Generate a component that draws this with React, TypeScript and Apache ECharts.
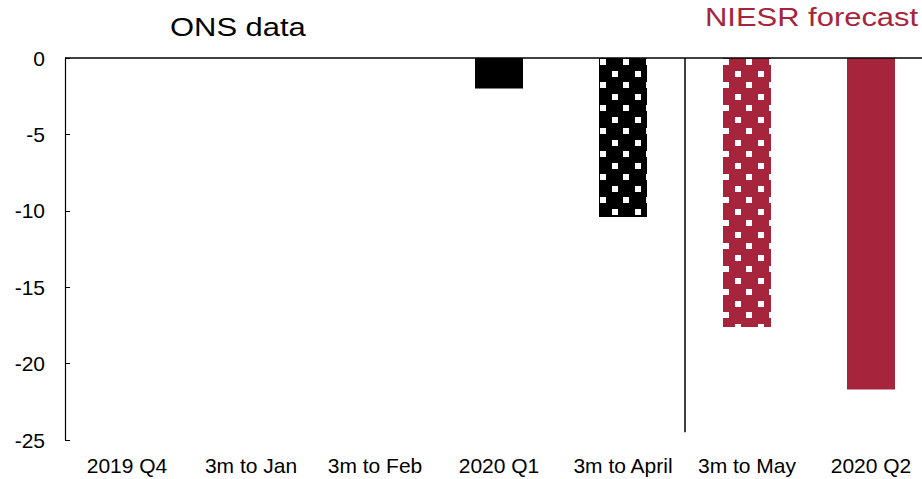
import React, { useEffect, useRef } from "react";
import * as echarts from "echarts";

const categories = ["2019 Q4", "3m to Jan", "3m to Feb", "2020 Q1", "3m to April", "3m to May", "2020 Q2"];
const growth: (number | null)[] = [null, null, null, -2.0, -10.4, -17.6, -21.7];
const barKinds = ["none", "none", "none", "solidBlack", "dotBlack", "dotRed", "solidRed"];
const yMin = -25;
const yMax = 0;
const yStep = 5;
const leftTitle = "ONS data";
const rightTitle = "NIESR forecast";

const RED = "#A6243C";
const FONT = "'Liberation Sans', Arial, sans-serif";
const TILE = 23;

function makeDots(bg: string, ox: number, oy: number) {
  const c = document.createElement("canvas");
  c.width = TILE;
  c.height = TILE;
  const ctx = c.getContext("2d")!;
  ctx.fillStyle = bg;
  ctx.fillRect(0, 0, TILE, TILE);
  ctx.fillStyle = "#ffffff";
  const sq = (x: number, y: number) => {
    for (const dx of [-TILE, 0, TILE]) {
      for (const dy of [-TILE, 0, TILE]) {
        ctx.fillRect(x + dx, y + dy, 6, 6);
      }
    }
  };
  sq(ox % TILE, oy % TILE);
  sq((ox + 12) % TILE, (oy + 12) % TILE);
  return c;
}

export default function App() {
  const ref = useRef<HTMLDivElement>(null);
  useEffect(() => {
    if (!ref.current) return;
    const chart = echarts.init(ref.current, null, { renderer: "svg" });
    const fills: Record<string, any> = {
      none: "transparent",
      solidBlack: "#000000",
      solidRed: RED,
      dotBlack: { image: makeDots("#000000", 2, 13), repeat: "repeat", imageWidth: TILE, imageHeight: TILE },
      dotRed: { image: makeDots(RED, 10, 13), repeat: "repeat", imageWidth: TILE, imageHeight: TILE },
    };
    chart.setOption({
      animation: false,
      grid: { left: 65, width: 868, top: 58, bottom: 39, containLabel: false, outerBoundsMode: "none" },
      xAxis: {
        type: "category",
        data: categories,
        position: "bottom",
        axisLine: { show: false, onZero: false },
        axisTick: { show: false },
        axisLabel: { color: "#000", fontSize: 21, fontFamily: FONT, margin: 15, interval: 0 },
        splitLine: { show: false },
      },
      yAxis: {
        type: "value",
        min: yMin,
        max: yMax,
        interval: yStep,
        axisLine: { show: true, lineStyle: { color: "#000", width: 1.2 } },
        axisTick: { show: true, inside: true, length: 5, lineStyle: { color: "#000", width: 1 } },
        axisLabel: { color: "#000", fontSize: 21, fontFamily: FONT, margin: 20 },
        splitLine: { show: false },
      },
      series: [
        {
          type: "bar",
          barWidth: 48,
          data: growth.map((v, i) => ({
            value: v === null ? "-" : v,
            itemStyle: { color: fills[barKinds[i]] },
          })),
          markLine: {
            silent: true,
            symbol: ["none", "none"],
            label: { show: false },
            lineStyle: { color: "#000", width: 1.5, type: "solid" },
            data: [{ yAxis: 0 }],
          },
        },
      ],
    });
    const xa = chart.convertToPixel({ xAxisIndex: 0 }, categories[4]) as number;
    const xb = chart.convertToPixel({ xAxisIndex: 0 }, categories[5]) as number;
    const sepX = (xa + xb) / 2;
    const y0 = chart.convertToPixel({ yAxisIndex: 0 }, 0) as number;
    const y1 = chart.convertToPixel({ yAxisIndex: 0 }, -24.5) as number;
    chart.setOption({
      graphic: [
        {
          type: "line",
          shape: { x1: sepX, y1: y0, x2: sepX, y2: y1 },
          style: { stroke: "#000", lineWidth: 1.5 },
          silent: true,
        },
        {
          type: "text",
          x: 170,
          y: 27,
          scaleX: 1.19,
          style: { text: leftTitle, fill: "#000", font: `26px ${FONT}`, textAlign: "left", textVerticalAlign: "middle" },
        },
        {
          type: "text",
          x: 705,
          y: 17,
          scaleX: 1.19,
          style: { text: rightTitle, fill: RED, font: `26px ${FONT}`, textAlign: "left", textVerticalAlign: "middle" },
        },
      ],
    });
    return () => chart.dispose();
  }, []);
  return <div ref={ref} style={{ position: "absolute", left: 0, top: 0, width: 922, height: 479 }} />;
}
